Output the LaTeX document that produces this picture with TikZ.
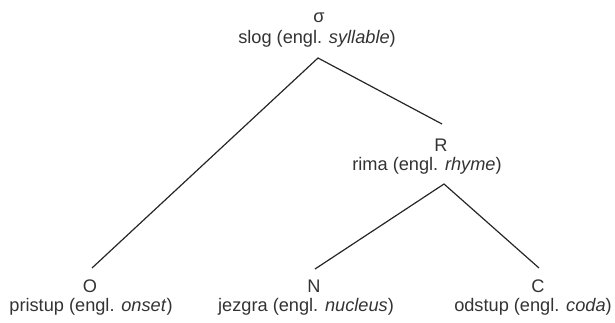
\documentclass[tikz,border=0pt]{standalone}
\usepackage{fontspec}
\setmainfont{Liberation Sans}
\begin{document}
\begin{tikzpicture}[x=1pt,y=-1pt,
  lbl/.style={inner sep=0pt, text=black!80, font=\fontsize{18.2}{20}\selectfont},
  edge/.style={draw=black!85, line width=1.2pt}]
\useasboundingbox (0,0) rectangle (615,322);
% labels
\node[lbl] (sig) at (319,18) {σ};
\node[lbl] (slog) at (317,39) {slog (engl. \textit{syllable})};
\node[lbl] (R) at (441,145) {R};
\node[lbl] (rima) at (427,166) {rima (engl. \textit{rhyme})};
\node[lbl] (O) at (90,286) {O};
\node[lbl] (onset) at (91,307) {pristup (engl. \textit{onset})};
\node[lbl] (N) at (314,286) {N};
\node[lbl] (nuc) at (306,307) {jezgra (engl. \textit{nucleus})};
\node[lbl] (C) at (538,286) {C};
\node[lbl] (coda) at (533,307) {odstup (engl. \textit{coda})};
% attachment points
\coordinate (topA) at (318,58);
\coordinate (Rend) at (442,124);
\coordinate (rimaA) at (444,184);
\coordinate (Oend) at (92,268);
\coordinate (Nend) at (315,269);
\coordinate (Cend) at (539,268);
\draw[edge] (Oend) -- (topA) -- (Rend);
\draw[edge] (Nend) -- (rimaA) -- (Cend);
\end{tikzpicture}
\end{document}
